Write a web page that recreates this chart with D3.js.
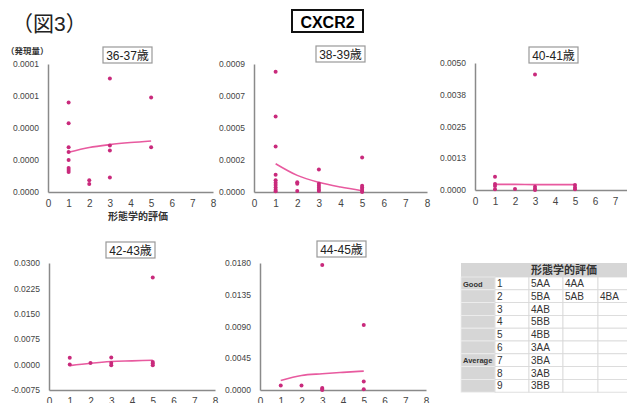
<!DOCTYPE html>
<html>
<head>
<meta charset="utf-8">
<script src="https://cdn.jsdelivr.net/npm/d3@7"></script>
<style>
  body { margin: 0; background: #fff; }
  svg { font-family: "Liberation Sans", Arial, "Noto Sans CJK JP", sans-serif; }
</style>
</head>
<body>
<div id="chart"></div>
<script>
// panel titles and y ranges
var panelTitles = ["36-37歳", "38-39歳", "40-41歳", "42-43歳", "44-45歳"];
var yMin = [0, 0, 0, -0.0075, 0];
var yMax = [0.00008, 0.0009, 0.005, 0.03, 0.018];
var yTickLabels = [
  ["0.0000", "0.0000", "0.0000", "0.0001", "0.0001"],
  ["0.0000", "0.0002", "0.0005", "0.0007", "0.0009"],
  ["0.0000", "0.0013", "0.0025", "0.0038", "0.0050"],
  ["-0.0075", "0.0000", "0.0075", "0.0150", "0.0225", "0.0300"],
  ["0.0000", "0.0045", "0.0090", "0.0135", "0.0180"]
];
var xTicks = [0, 1, 2, 3, 4, 5, 6, 7, 8];

// points [形態学的評価, 発現量]
var pts3637 = [[1, 5.6e-5], [1, 4.3e-5], [1, 2.8e-5], [1, 2.5e-5], [1, 2.0e-5], [1, 1.5e-5], [1, 1.37e-5], [1, 1.25e-5],
  [2, 0.73e-5], [2, 0.5e-5], [3, 7.1e-5], [3, 2.9e-5], [3, 2.6e-5], [3, 0.9e-5], [5, 5.9e-5], [5, 2.8e-5]];
var pts3839 = [[1, 8.46e-4], [1, 5.3e-4], [1, 3.2e-4], [1, 1.22e-4], [1, 0.82e-4], [1, 0.65e-4], [1, 0.49e-4], [1, 0.32e-4], [1, 0.16e-4], [1, 0.05e-4],
  [2, 0.68e-4], [2, 0.58e-4], [2, 0.07e-4],
  [3, 1.59e-4], [3, 0.58e-4], [3, 0.44e-4], [3, 0.3e-4], [3, 0.16e-4], [3, 0.07e-4],
  [5, 2.43e-4], [5, 0.44e-4], [5, 0.32e-4], [5, 0.21e-4], [5, 0.07e-4], [5, 0.0]];
var pts4041 = [[1, 0.52e-3], [1, 0.24e-3], [1, 0.16e-3], [1, 0.03e-3], [2, 0.04e-3],
  [3, 4.55e-3], [3, 0.13e-3], [3, 0.04e-3], [3, 0.0], [5, 0.2e-3], [5, 0.1e-3], [5, 0.03e-3]];
var pts4243 = [[1, 0.0020], [1, 0.0], [2, 0.0005], [3, 0.0021], [3, 0.0005], [3, -0.0002],
  [5, 0.0257], [5, 0.0008], [5, 0.0003], [5, -0.0002]];
var pts4445 = [[1, 0.00065], [2, 0.00065], [3, 0.0177], [3, 0.0003], [3, 0.00014], [3, 0.0],
  [5, 0.0092], [5, 0.0012], [5, 0.0001]];
var points = [pts3637, pts3839, pts4041, pts4243, pts4445];

// trend lines read at x = 1..5
var trendX = [1, 2, 3, 4, 5];
var trend3637 = [2.48e-5, 2.78e-5, 2.96e-5, 3.09e-5, 3.19e-5];
var trend3839 = [1.99e-4, 1.17e-4, 0.68e-4, 0.35e-4, 0.09e-4];
var trend4041 = [0.22e-3, 0.22e-3, 0.21e-3, 0.21e-3, 0.21e-3];
var trend4243 = [-0.0003, 0.0004, 0.0009, 0.0011, 0.0013];
var trend4445 = [0.00135, 0.00206, 0.0023, 0.0025, 0.00268];
var trends = [trend3637, trend3839, trend4041, trend4243, trend4445];

// table
var tableHeader = "形態学的評価";
var tableNums = [1, 2, 3, 4, 5, 6, 7, 8, 9];
var tableGroups = ["Good", "", "", "", "", "", "Average", "", ""];
var tableCodes = [["5AA", "4AA"], ["5BA", "5AB", "4BA"], ["4AB"], ["5BB"], ["4BB"], ["3AA"], ["3BA"], ["3AB"], ["3BB"]];

var W = 627, H = 403;
var dotColor = "#c92a7c", lineColor = "#e85a9f", axisColor = "#8a8a8a";

var svg = d3.select("#chart").append("svg")
    .attr("width", W)
    .attr("height", H);

// panel boxes: x0 / x8 pixel, top / bottom pixel, title box
var layout = [
  {x0: 48, x8: 213, top: 64, bot: 192, tx: 103, ty: 47},
  {x0: 254, x8: 427, top: 64, bot: 192, tx: 316, ty: 46},
  {x0: 475, x8: 635, top: 63, bot: 190, tx: 529, ty: 47},
  {x0: 49, x8: 215, top: 263, bot: 390, tx: 106, ty: 242},
  {x0: 260, x8: 426, top: 263, bot: 390, tx: 317, ty: 241}
];

svg.append("text")
    .attr("x", 12).attr("y", 31)
    .attr("font-size", 21)
    .attr("fill", "#222")
    .text("（図3）");

svg.append("rect")
    .attr("x", 292).attr("y", 10).attr("width", 71).attr("height", 22)
    .attr("fill", "#fff").attr("stroke", "#111").attr("stroke-width", 2);
svg.append("text")
    .attr("x", 327.5).attr("y", 27.5)
    .attr("text-anchor", "middle")
    .attr("font-size", 16).attr("font-weight", "bold")
    .text("CXCR2");

svg.append("text")
    .attr("x", 6).attr("y", 54)
    .attr("font-size", 8.5).attr("font-weight", "bold")
    .attr("fill", "#333")
    .text("（発現量）");

layout.forEach(function(L, i) {
  var x = d3.scaleLinear().domain([0, 8]).range([L.x0, L.x8]);
  var y = d3.scaleLinear().domain([yMin[i], yMax[i]]).range([L.bot, L.top]);
  var n = yTickLabels[i].length;
  var yVals = d3.range(n).map(function(k) { return yMin[i] + (yMax[i] - yMin[i]) * k / (n - 1); });

  var g = svg.append("g");

  var yAxis = d3.axisLeft(y).tickValues(yVals)
      .tickFormat(function(d, k) { return yTickLabels[i][k]; })
      .tickSize(0).tickPadding(9);
  var ga = g.append("g")
      .attr("transform", "translate(" + L.x0 + ",0)")
      .call(yAxis);
  ga.select(".domain").attr("stroke", axisColor).attr("stroke-width", 1.5);
  ga.selectAll("text").attr("font-size", 8.5).attr("fill", "#444")
      .attr("font-family", "Liberation Sans, Arial, sans-serif");

  var xAxis = d3.axisBottom(x).tickValues(xTicks).tickSize(0).tickPadding(8);
  var gx = g.append("g")
      .attr("transform", "translate(0," + L.bot + ")")
      .call(xAxis);
  gx.select(".domain").attr("stroke", axisColor).attr("stroke-width", 1.5);
  gx.selectAll("text").attr("font-size", 10).attr("fill", "#444")
      .attr("font-family", "Liberation Sans, Arial, sans-serif");

  // trend
  var line = d3.line()
      .x(function(d, k) { return x(trendX[k]); })
      .y(function(d) { return y(d); })
      .curve(d3.curveMonotoneX);
  g.append("path")
      .datum(trends[i])
      .attr("d", line)
      .attr("fill", "none")
      .attr("stroke", lineColor)
      .attr("stroke-width", 1.6);

  g.selectAll("circle")
      .data(points[i])
    .enter().append("circle")
      .attr("cx", function(d) { return x(d[0]); })
      .attr("cy", function(d) { return y(d[1]); })
      .attr("r", 2)
      .attr("fill", dotColor);

  // title box
  g.append("rect")
      .attr("x", L.tx).attr("y", L.ty).attr("width", 49).attr("height", 16)
      .attr("fill", "#fff").attr("stroke", "#999").attr("stroke-width", 1.2);
  g.append("text")
      .attr("x", L.tx + 24.5).attr("y", L.ty + 12.5)
      .attr("text-anchor", "middle")
      .attr("font-size", 12)
      .attr("fill", "#222")
      .text(panelTitles[i]);
});

svg.append("text")
    .attr("x", 138).attr("y", 220)
    .attr("text-anchor", "middle")
    .attr("font-size", 10).attr("font-weight", "bold")
    .attr("fill", "#333")
    .text("形態学的評価");

// table
var colX = [461, 495, 529, 563, 598, 632];
var headTop = 263, headH = 14, rowH = 12.8;
var tg = svg.append("g");
tg.append("rect")
    .attr("x", colX[0]).attr("y", headTop).attr("width", W - colX[0]).attr("height", headH)
    .attr("fill", "#d6d6d6");
tg.append("text")
    .attr("x", 564).attr("y", headTop + 11)
    .attr("text-anchor", "middle")
    .attr("font-size", 11).attr("font-weight", "bold")
    .attr("fill", "#333")
    .text(tableHeader);

var rows = tg.selectAll("g.row")
    .data(tableNums)
  .enter().append("g")
    .attr("class", "row")
    .attr("transform", function(d, k) { return "translate(0," + (headTop + headH + k * rowH) + ")"; });

rows.append("rect")
    .attr("x", colX[0]).attr("y", 0).attr("width", colX[1] - colX[0]).attr("height", rowH)
    .attr("fill", "#d6d6d6").attr("stroke", "#eee").attr("stroke-width", 0.8);
for (var c = 1; c < 5; c++) {
  rows.append("rect")
      .attr("x", colX[c]).attr("y", 0).attr("width", colX[c + 1] - colX[c]).attr("height", rowH)
      .attr("fill", "#fff").attr("stroke", "#d8d8d8").attr("stroke-width", 0.8);
}
rows.append("text")
    .attr("x", colX[0] + 2).attr("y", 9.5)
    .attr("font-size", 7.5).attr("font-weight", "bold").attr("fill", "#333")
    .text(function(d, k) { return tableGroups[k]; });
rows.append("text")
    .attr("x", colX[1] + 2).attr("y", 10)
    .attr("font-size", 10).attr("fill", "#333")
    .text(function(d) { return d; });
[0, 1, 2].forEach(function(c) {
  rows.append("text")
      .attr("x", colX[c + 2] + 2).attr("y", 10)
      .attr("font-size", 10).attr("fill", "#333")
      .text(function(d, k) { return tableCodes[k][c] || ""; });
});
</script>
</body>
</html>
